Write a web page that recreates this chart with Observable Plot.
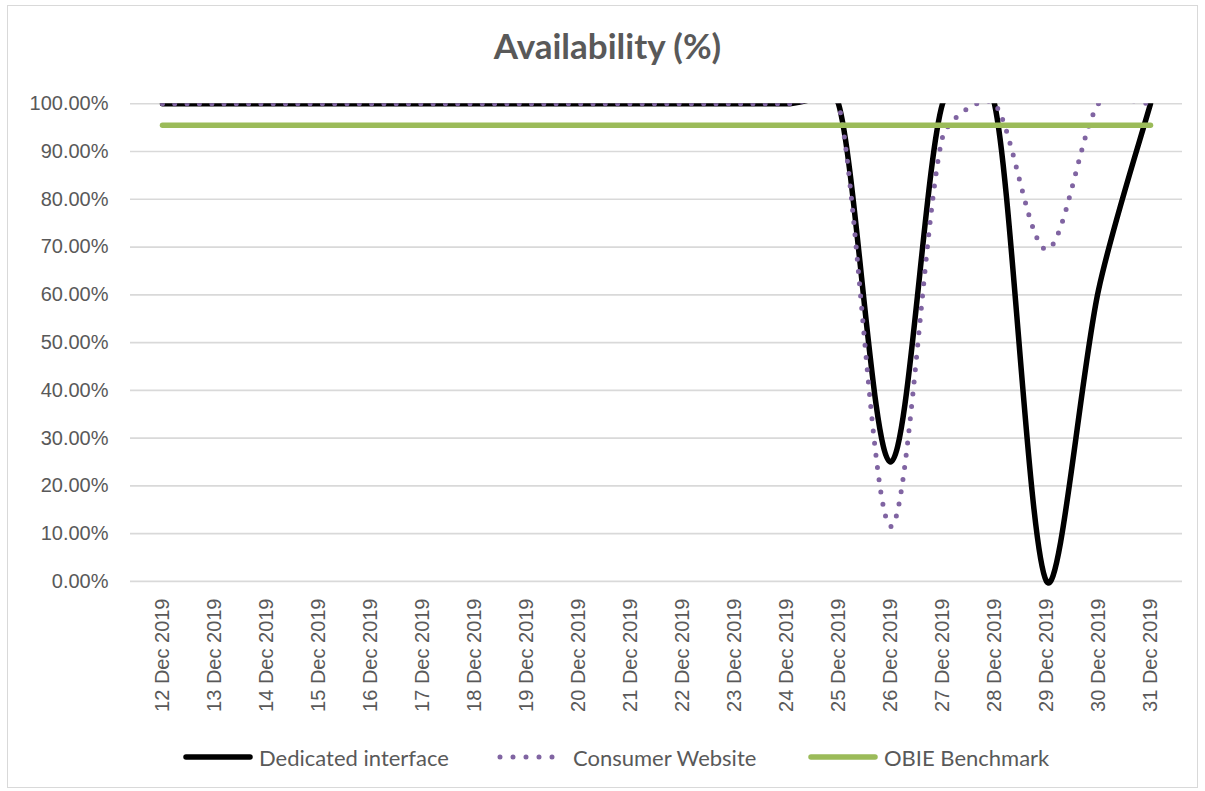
<!DOCTYPE html>
<html><head><meta charset="utf-8">
<script src="https://cdn.jsdelivr.net/npm/d3@7"></script>
<script src="https://cdn.jsdelivr.net/npm/@observablehq/plot@0.6"></script>
<style>
body{margin:0;background:#fff;width:1205px;height:791px;position:relative;overflow:hidden;}
#frame{position:absolute;left:7px;top:5px;width:1191px;height:783px;border:1px solid #d9d9d9;box-sizing:border-box;}
#title{position:absolute;left:0;top:26px;width:1215px;text-align:center;font-family:Lato,"Open Sans",sans-serif;font-weight:bold;font-size:35px;line-height:38px;color:#595959;}
#chart{position:absolute;left:0;top:80px;}
.leg{position:absolute;top:745px;height:24px;display:flex;align-items:center;font-family:Lato,"Open Sans",sans-serif;font-size:22px;color:#595959;white-space:nowrap;}
.leg svg{margin-right:6px;}
</style></head>
<body>
<div id="frame"></div>
<div id="title">Availability (%)</div>
<div id="chart"></div>
<div id="legend"></div>
<script>
const dates = ["12 Dec 2019","13 Dec 2019","14 Dec 2019","15 Dec 2019","16 Dec 2019","17 Dec 2019","18 Dec 2019","19 Dec 2019","20 Dec 2019","21 Dec 2019","22 Dec 2019","23 Dec 2019","24 Dec 2019","25 Dec 2019","26 Dec 2019","27 Dec 2019","28 Dec 2019","29 Dec 2019","30 Dec 2019","31 Dec 2019"];
const dedicatedInterface = [100,100,100,100,100,100,100,100,100,100,100,100,100,100,25,100,100,0,61,100];
const consumerWebsite   = [100,100,100,100,100,100,100,100,100,100,100,100,100,100,11.5,93,100,69.5,100,100];
const obieBenchmark     = [95.5,95.5,95.5,95.5,95.5,95.5,95.5,95.5,95.5,95.5,95.5,95.5,95.5,95.5,95.5,95.5,95.5,95.5,95.5,95.5];
const yTicks = [0,10,20,30,40,50,60,70,80,90,100];
const seriesNames = ["Dedicated interface","Consumer Website","OBIE Benchmark"];

const rows = (vals) => dates.map((d,i)=>({date:d, value:vals[i]}));

// Spreadsheet-style smoothed line: Bezier with Catmull-Rom tangents whose
// handles are shortened next to short segments (avoids big overshoots).
function smoothCurve(context) {
  let pts;
  return {
    areaStart(){}, areaEnd(){},
    lineStart(){ pts = []; },
    point(x, y){ pts.push([+x, +y]); },
    lineEnd(){
      const n = pts.length;
      if (!n) return;
      context.moveTo(pts[0][0], pts[0][1]);
      if (n === 1) return;
      const dist = (a, b) => Math.hypot(b[0]-a[0], b[1]-a[1]);
      for (let i = 0; i < n - 1; i++) {
        const p0 = pts[Math.max(i-1, 0)], p1 = pts[i], p2 = pts[i+1], p3 = pts[Math.min(i+2, n-1)];
        const d01 = dist(p0, p1), d12 = dist(p1, p2), d23 = dist(p2, p3);
        const fa = d01 + d12 > 0 ? Math.min(1, 2*d12/(d01+d12)) / 6 : 0;
        const fb = d12 + d23 > 0 ? Math.min(1, 2*d12/(d12+d23)) / 6 : 0;
        context.bezierCurveTo(
          p1[0] + fa*(p2[0]-p0[0]), p1[1] + fa*(p2[1]-p0[1]),
          p2[0] - fb*(p3[0]-p1[0]), p2[1] - fb*(p3[1]-p1[1]),
          p2[0], p2[1]);
      }
    }
  };
}

const chart = Plot.plot({
  width:1205, height:650,
  marginLeft:130, marginRight:23, marginTop:23.3, marginBottom:130,
  style:{fontFamily:"'Liberation Sans', Arial, sans-serif", fontSize:"20px", color:"#595959", background:"transparent", overflow:"visible"},
  x:{type:"point", domain:dates, padding:0.5},
  y:{domain:[-4,100]},
  marks:[
    Plot.ruleY(yTicks, {stroke:"#d9d9d9", strokeWidth:1.6, strokeOpacity:1}),
    Plot.axisY(yTicks, {tickSize:0, tickPadding:22, tickFormat:d=>d.toFixed(2)+"%", label:null, fontSize:20}),
    Plot.axisX({tickSize:0, tickRotate:-90, tickPadding:-2, label:null, fontSize:20}),
    Plot.line(rows(dedicatedInterface), {x:"date", y:"value", curve:smoothCurve, stroke:"#000", strokeWidth:5.5, clip:true}),
    Plot.line(rows(consumerWebsite), {x:"date", y:"value", curve:smoothCurve, stroke:"#8064a2", strokeWidth:5, strokeDasharray:"0 12.3", strokeLinecap:"round", clip:true}),
    Plot.line(rows(obieBenchmark), {x:"date", y:"value", curve:smoothCurve, stroke:"#9bbb59", strokeWidth:5.5, strokeLinecap:"round", clip:true})
  ]
});
document.getElementById("chart").appendChild(chart);

const legendDefs = [
  {name:seriesNames[0], left:183, stroke:"#000", width:5.5, dash:null},
  {name:seriesNames[1], left:497, stroke:"#8064a2", width:5, dash:"0 13"},
  {name:seriesNames[2], left:808, stroke:"#9bbb59", width:5.5, dash:null}
];
const legend = document.getElementById("legend");
for (const l of legendDefs) {
  const div = document.createElement("div");
  div.className = "leg";
  div.style.left = l.left + "px";
  div.innerHTML = `<svg width="70" height="12"><line x1="3" y1="6" x2="67" y2="6" stroke="${l.stroke}" stroke-width="${l.width}" stroke-linecap="round" ${l.dash ? `stroke-dasharray="${l.dash}"` : ""}/></svg><span>${l.name}</span>`;
  legend.appendChild(div);
}
</script>
</body></html>
